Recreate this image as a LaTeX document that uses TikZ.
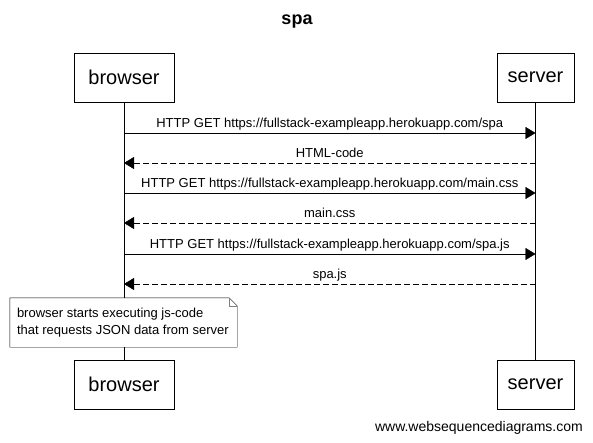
\documentclass[tikz,border=0pt]{standalone}
\usepackage{fontspec}
\setmainfont{Liberation Sans}
\usetikzlibrary{arrows.meta,positioning}

\tikzset{
  actor/.style={draw, minimum width=100pt, minimum height=49pt, inner sep=0pt, font=\fontsize{20}{24}\selectfont},
  msg/.style={-{Triangle[length=10pt,width=12pt]}},
  reply/.style={msg, dash pattern=on 6pt off 3pt},
  lbl/.style={font=\fontsize{13}{15}\selectfont, inner sep=0pt, anchor=base}
}

\begin{document}
\begin{tikzpicture}[x=1pt,y=-1pt]
  \useasboundingbox (0,0) rectangle (593,443);
  \node[font=\bfseries\fontsize{18}{21}\selectfont] (title) at (297,22) {spa};

  % participants
  \node[actor] (browser) at (124,77.5) {browser};
  \node[actor, minimum width=77pt] (server) at (535.5,77.5) {server};
  \node[actor] (browserb) at (124,384.5) {browser};
  \node[actor, minimum width=77pt] (serverb) at (535.5,384.5) {server};

  \draw (browser) -- (browserb);
  \draw (server) -- (serverb);

  % points on the lifelines
  \foreach \i/\y in {1/133,2/163,3/193,4/223,5/254,6/284}{
    \coordinate (b\i) at (124,\y);
    \coordinate (s\i) at (535.5,\y);
  }

  % messages
  \draw[msg] (b1) -- (s1) node[lbl, midway, yshift=5.5pt] {HTTP GET https://fullstack-exampleapp.herokuapp.com/spa};
  \draw[reply] (s2) -- (b2) node[lbl, midway, yshift=5.5pt] {HTML-code};
  \draw[msg] (b3) -- (s3) node[lbl, midway, yshift=5.5pt] {HTTP GET https://fullstack-exampleapp.herokuapp.com/main.css};
  \draw[reply] (s4) -- (b4) node[lbl, midway, yshift=5.5pt] {main.css};
  \draw[msg] (b5) -- (s5) node[lbl, midway, yshift=5.5pt] {HTTP GET https://fullstack-exampleapp.herokuapp.com/spa.js};
  \draw[reply] (s6) -- (b6) node[lbl, midway, yshift=5.5pt] {spa.js};

  % note
  \node[fill=white, minimum width=227pt, minimum height=49pt, inner sep=0pt] (note) at (123.5,322.5) {};
  \node[font=\fontsize{13}{17}\selectfont, align=left, anchor=west, inner sep=0pt] (notetext) at ([xshift=7pt]note.west)
    {browser starts executing js-code\\that requests JSON data from server};
  \draw ([xshift=-8pt]note.north east) -- (note.north west) -- (note.south west)
    -- (note.south east) -- ([yshift=-8pt]note.north east) -- cycle;
  \draw[gray] ([xshift=-8pt]note.north east) |- ([yshift=-8pt]note.north east);

  \node[font=\fontsize{14}{17}\selectfont, anchor=east, inner sep=0pt] (site) at (583,428) {www.websequencediagrams.com};
\end{tikzpicture}
\end{document}
